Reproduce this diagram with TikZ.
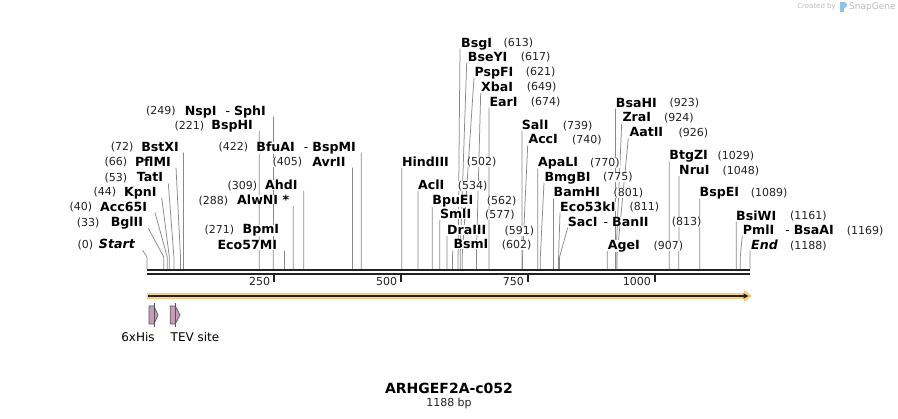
\documentclass[tikz,border=0pt]{standalone}
\usepackage{fontspec}
\setmainfont{DejaVu Sans}
\definecolor{linec}{HTML}{8A8A8A}
\definecolor{numc}{HTML}{222222}
\definecolor{barc}{HTML}{222222}
\definecolor{orfill}{HTML}{FDD58A}
\definecolor{ordraw}{HTML}{F4BE5E}
\definecolor{featfill}{HTML}{C99BB8}
\definecolor{featdraw}{HTML}{555555}
\definecolor{wmark}{HTML}{BDBDBD}
\definecolor{wlogo}{HTML}{8EC3EA}
\pgfdeclarelayer{bglayer}
\pgfsetlayers{bglayer,main}
\newcommand\rcut[8]{%
  \node[lab, anchor=base west] (#1) at (#4,#5+4.5) {#2};
  \node[num, anchor=base west] (#1n) at (#6,#5+4.3) {(#3)};
  \coordinate (#1t) at (#7,#5+6);
  \coordinate (#1k) at ({147+0.5075*#8},257);
  \coordinate (#1b) at ({147+0.5075*#8},269);
  \begin{pgfonlayer}{bglayer}\draw[cutline] (#1t) -- (#1k) -- (#1b);\end{pgfonlayer}
}
\newcommand\lcut[8]{%
  \node[lab, anchor=base east] (#1) at (#4,#5+4.5) {#2};
  \node[num, anchor=base west] (#1n) at (#6,#5+4.3) {(#3)};
  \coordinate (#1t) at (#7,#5+6);
  \coordinate (#1k) at ({147+0.5075*#8},257);
  \coordinate (#1b) at ({147+0.5075*#8},269);
  \begin{pgfonlayer}{bglayer}\draw[cutline] (#1t) -- (#1k) -- (#1b);\end{pgfonlayer}
}
\begin{document}
\begin{tikzpicture}[x=1pt,y=-1pt,
  lab/.style={inner sep=0pt, fill=white, font=\fontsize{12.6}{12.6}\selectfont\bfseries},
  num/.style={inner sep=0pt, fill=white, font=\fontsize{11}{11}\selectfont, text=numc},
  cutline/.style={draw=linec, line width=0.75pt},
  seqline/.style={draw=barc, line width=2.3pt},
  tickmark/.style={draw=barc, line width=2pt},
  ticklab/.style={inner sep=0pt, anchor=base east, font=\fontsize{11}{11}\selectfont, text=numc},
  feat/.style={fill=featfill, draw=featdraw, line width=0.7pt},
  featlab/.style={inner sep=0pt, font=\fontsize{12}{12}\selectfont}]
\useasboundingbox (0,0) rectangle (898,419);
\begin{pgfonlayer}{bglayer}\fill[white] (0,0) rectangle (898,419);\end{pgfonlayer}

% watermark
\node[inner sep=0pt, anchor=east, text=wmark, font=\fontsize{7}{7}\selectfont] (wm1) at (836,7) {Created by};
\fill[wlogo] (840,2.5) rectangle (843.5,12.5);
\fill[wlogo] (843.5,2.5) .. controls (847.5,2.5) and (847.5,8) .. (843.5,8) -- cycle;
\node[inner sep=0pt, anchor=west, text=wmark, font=\fontsize{9}{9}\selectfont] (wm2) at (849,7) {SnapGene};

% sequence bar
\coordinate (barL1) at (147,270.2);
\coordinate (barR1) at (750,270.2);
\coordinate (barL2) at (147,274.2);
\coordinate (barR2) at (750,274.2);
\draw[seqline] (barL1) -- (barR1);
\draw[seqline] (barL2) -- (barR2);

% ticks
\foreach \p/\t in {250/t250,500/t500,750/t750,1000/t1000}{
  \coordinate (\t a) at ({147+0.5075*\p},275.3);
  \coordinate (\t b) at ({147+0.5075*\p},282.3);
  \draw[tickmark] (\t a) -- (\t b);
  \node[ticklab] (\t l) at ({147+0.5075*\p-3.5},285.5) {\p};
}

% ORF arrow
\fill[orfill, draw=ordraw, line width=0.5pt] (147,293.3) -- (744.5,293.3) -- (744.5,290.5) -- (751,296) -- (744.5,301.5) -- (744.5,298.7) -- (147,298.7) -- cycle;
\coordinate (orfL) at (148,296);
\coordinate (orfR) at (744,296);
\draw[barc, line width=1.5pt] (orfL) -- (orfR);
\fill[barc] (743.5,293.3) -- (748.5,296) -- (743.5,298.7) -- cycle;

% features
\draw[feat] (149,306) -- (154,306) -- (158,315) -- (154,324) -- (149,324) -- cycle;
\draw[featdraw, line width=0.7pt] (154,303.5) -- (154,327);
\draw[feat] (170.3,306) -- (175.3,306) -- (180,315) -- (175.3,324) -- (170.3,324) -- cycle;
\draw[featdraw, line width=0.7pt] (175.3,303.5) -- (175.3,327);
\node[featlab] (his) at (138,337) {6xHis};
\node[featlab] (tev) at (195,337) {TEV site};

% title
\node[inner sep=0pt, font=\fontsize{14}{14}\selectfont\bfseries] (title) at (449,388) {ARHGEF2A-c052};
\node[inner sep=0pt, font=\fontsize{11}{11}\selectfont, text=numc] (bp) at (449,403) {1188 bp};

% left-side cut sites
\lcut{Start}{\itshape Start}{0}{135}{244.3}{77.3}{142.7}{0}
\lcut{BglII}{BglII}{33}{143.3}{222.3}{76.7}{148.3}{33}
\lcut{Acc}{Acc65I}{40}{147.3}{206.7}{69.3}{155}{40}
\lcut{KpnI}{KpnI}{44}{156.7}{191.7}{93.3}{161.7}{44}
\lcut{TatI}{TatI}{53}{163.3}{177.3}{104.3}{168.3}{53}
\lcut{PflMI}{PflMI}{66}{171}{161.7}{104.3}{176}{66}
\lcut{BstXI}{BstXI}{72}{179}{146.7}{110.7}{183.5}{72}
\lcut{BspHI}{BspHI}{221}{253}{125}{174.3}{259.2}{221}
\lcut{NspI}{NspI\hspace{9pt}{\mdseries -}\hspace{4pt}SphI}{249}{266}{110.7}{146}{273.4}{249}
\lcut{AlwNI}{AlwNI *}{288}{289.3}{200}{198.3}{293.2}{288}
\lcut{AhdI}{AhdI}{309}{297.7}{185}{227.3}{303.8}{309}
\lcut{AvrII}{AvrII}{405}{345.7}{161.7}{272.3}{352.5}{405}
\lcut{BfuAI}{BfuAI\hspace{9pt}{\mdseries -}\hspace{4pt}BspMI}{422}{356}{146.7}{218.3}{361.2}{422}
% 271: BpmI / Eco57MI
\node[lab, anchor=base east] (BpmI) at (279.3,229.3+4.5) {BpmI};
\node[num, anchor=base west] (BpmIn) at (204.3,229.3+4.3) {(271)};
\node[lab, anchor=base east] (Eco) at (277.3,245+4.5) {Eco57MI};
\coordinate (Ecot) at (284.5,251);
\coordinate (Ecob) at (284.5,269);
\begin{pgfonlayer}{bglayer}\draw[cutline] (Ecot) -- (Ecob);\end{pgfonlayer}

% right-side cut sites
\rcut{HindIII}{HindIII}{502}{401.8}{161.7}{466.7}{401.8}{502}
\rcut{AclI}{AclI}{534}{418}{185}{457.7}{418}{534}
\rcut{BpuEI}{BpuEI}{562}{432.2}{200}{486.7}{432.2}{562}
\rcut{SmlI}{SmlI}{577}{439.8}{214.3}{485}{439.8}{577}
\rcut{DraIII}{DraIII}{591}{446.9}{230}{504.3}{446.9}{591}
\rcut{BsmI}{BsmI}{602}{453.3}{244.3}{501.7}{452.8}{602}
\rcut{BsgI}{BsgI}{613}{461}{42.7}{503.3}{460}{613}
\rcut{BseYI}{BseYI}{617}{467.7}{56.7}{520.7}{466.7}{617}
\rcut{PspFI}{PspFI}{621}{474.3}{71.7}{525.7}{474}{621}
\rcut{XbaI}{XbaI}{649}{481}{86.7}{526.7}{480.7}{649}
\rcut{EarI}{EarI}{674}{489.3}{101.7}{530.7}{489.1}{674}
\rcut{SalI}{SalI}{739}{521.7}{125}{562.7}{522}{739}
\rcut{AccI}{AccI}{740}{528.3}{139.3}{572}{527.7}{740}
\rcut{ApaLI}{ApaLI}{770}{537.8}{162.3}{590}{537.8}{770}
\rcut{BmgBI}{BmgBI}{775}{544.3}{176.7}{603}{544}{775}
\rcut{BamHI}{BamHI}{801}{553.5}{192.3}{613.3}{553.5}{801}
\rcut{Ecok}{Eco53kI}{811}{560}{206.7}{629.3}{560}{811}
\rcut{SacI}{SacI\hspace{6pt}{\mdseries -}\hspace{4pt}BanII}{813}{567.7}{221.7}{671.7}{567.7}{813}
\rcut{AgeI}{AgeI}{907}{607.7}{245}{653.3}{607.3}{907}
\rcut{BsaHI}{BsaHI}{923}{615.7}{102.7}{669.3}{615.4}{923}
\rcut{ZraI}{ZraI}{924}{622.3}{117.3}{664}{621.7}{924}
\rcut{AatII}{AatII}{926}{629.3}{132.3}{678.3}{628.3}{926}
\rcut{BtgZI}{BtgZI}{1029}{669.2}{155}{717.3}{669.2}{1029}
\rcut{NruI}{NruI}{1048}{679}{170}{722.3}{678.9}{1048}
\rcut{BspEI}{BspEI}{1089}{699.5}{192.3}{750.7}{699.7}{1089}
\rcut{BsiWI}{BsiWI}{1161}{736}{215.7}{790}{736.2}{1161}
\rcut{PmlI}{PmlI\hspace{11pt}{\mdseries -}\hspace{4pt}BsaAI}{1169}{742.7}{230}{846.7}{742.3}{1169}
\rcut{End}{\itshape End}{1188}{751}{245}{790}{750}{1188}
\end{tikzpicture}
\end{document}
